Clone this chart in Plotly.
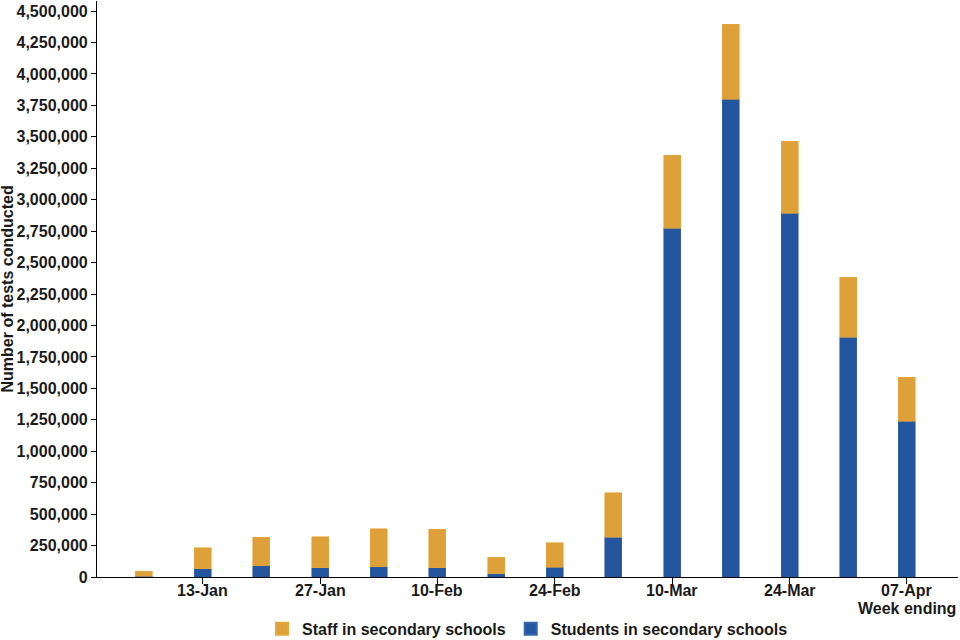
import plotly.graph_objects as go

weeks = ["06-Jan", "13-Jan", "20-Jan", "27-Jan", "03-Feb", "10-Feb", "17-Feb",
         "24-Feb", "03-Mar", "10-Mar", "17-Mar", "24-Mar", "31-Mar", "07-Apr"]
students = [5000, 64000, 90000, 74000, 80000, 74000, 26000,
            77000, 318000, 2774000, 3800000, 2893000, 1908000, 1240000]
staff = [42000, 169000, 226000, 246000, 302000, 305000, 133000,
         196000, 350000, 581000, 596000, 573000, 477000, 350000]
tick_labels = ["13-Jan", "27-Jan", "10-Feb", "24-Feb", "10-Mar", "24-Mar", "07-Apr"]
y_ticks = list(range(0, 4500001, 250000))

x = list(range(len(weeks)))
tickvals = [weeks.index(t) for t in tick_labels]

FONT = "Liberation Sans, Arial, sans-serif"
BOLD16 = dict(size=16, family=FONT, weight="bold", color="#1a1a1a")

fig = go.Figure()
fig.add_trace(go.Bar(x=x, y=students, name="Students in secondary schools",
                     marker=dict(color="#23569E", line=dict(color="#3566ad", width=0.6)),
                     width=0.29))
fig.add_trace(go.Bar(x=x, y=staff, name="Staff in secondary schools",
                     marker=dict(color="#DEA13A", line=dict(color="#e8a73a", width=0.6)),
                     width=0.29))

annotations = [
    dict(text="Number of tests conducted", textangle=-90, xref="paper", yref="paper",
         x=-0.104, y=0.5, xanchor="center", yanchor="middle", showarrow=False,
         font=BOLD16),
    dict(text="Week ending", xref="paper", yref="paper", x=1.0, y=0, yshift=-31,
         xanchor="right", yanchor="middle", showarrow=False, font=BOLD16),
]
for t in tick_labels:
    annotations.append(dict(text=t, xref="x", yref="paper", x=weeks.index(t), y=0,
                            yshift=-13, xanchor="center", yanchor="middle",
                            showarrow=False, font=BOLD16))

fig.update_layout(
    barmode="stack",
    width=960, height=640,
    margin=dict(l=97, r=2, t=1, b=63, autoexpand=False),
    plot_bgcolor="white", paper_bgcolor="white",
    font=dict(family=FONT, size=16, color="#1a1a1a"),
    showlegend=True,
    legend=dict(orientation="h", traceorder="reversed", x=0.5, xanchor="center",
                y=-0.09, yanchor="middle", font=BOLD16,
                itemwidth=30, itemsizing="constant"),
    xaxis=dict(range=[-0.8, 13.87], tickmode="array", tickvals=tickvals,
               showticklabels=False, automargin=False,
               showline=True, linecolor="black", linewidth=1.2, ticks="outside",
               ticklen=6, tickcolor="black", showgrid=False, zeroline=False),
    yaxis=dict(range=[0, 4580000], tickmode="array", tickvals=y_ticks,
               ticktext=[f"{v:,}" for v in y_ticks], automargin=False,
               showline=True, linecolor="black", linewidth=1.2, ticks="outside",
               ticklen=5, tickcolor="black", showgrid=False, zeroline=False,
               tickfont=BOLD16),
    annotations=annotations,
)

fig.write_html("out.html", config={"displayModeBar": False},
               post_script="document.body.style.margin='0';document.body.style.overflow='hidden';")
